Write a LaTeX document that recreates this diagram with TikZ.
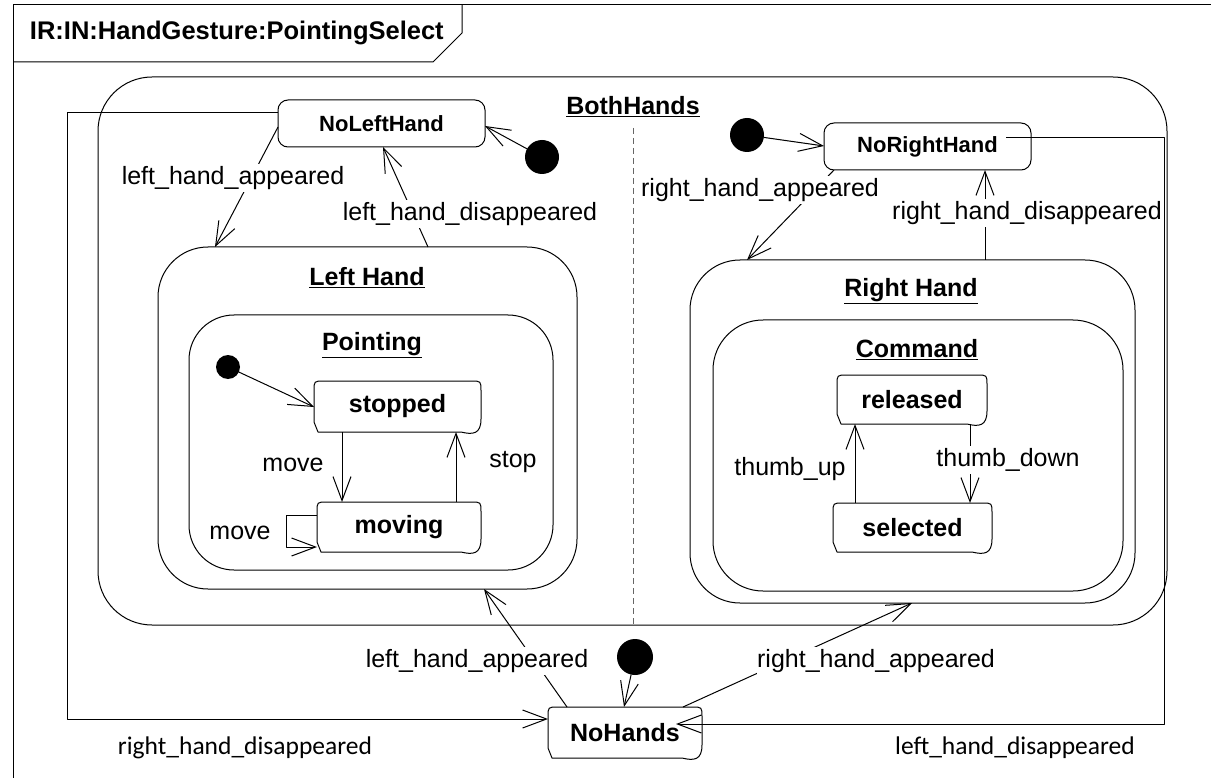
\documentclass[tikz,border=0pt]{standalone}
\usepackage{fontspec}
\setmainfont{Liberation Sans}
\newfontfamily\calfont{Carlito}
\usetikzlibrary{arrows.meta,calc}

% outline of a simple state: rounded top, slanted bottom-left, curled bottom-right
\newcommand\stateoutline[1]{%
  \draw[stateline]
    ($(#1.south west)+(4,0)$) -- ($(#1.south east)+(-20,0)$)
    .. controls ($(#1.south east)+(-8,3)$) and ($(#1.south east)+(0,2)$) .. ($(#1.south east)+(0,-13)$)
    -- ($(#1.north east)+(0,10)$) .. controls (#1.north east) .. ($(#1.north east)+(-10,0)$)
    -- ($(#1.north west)+(10,0)$) .. controls (#1.north west) .. ($(#1.north west)+(0,10)$)
    -- ($(#1.south west)+(0,-10)$) -- cycle;}

\begin{document}
\begin{tikzpicture}[x=1pt,y=-1pt,
  line width=1pt, line join=round,
  every node/.style={inner sep=0pt, outer sep=0pt},
  arr/.style={draw, -{Straight Barb[length=24pt,width=18pt]}},
  stateline/.style={line width=1pt},
  region/.style={draw, rounded corners=#1},
  simplestate/.style={draw, rounded corners=10pt, font=\fontsize{22}{26}\selectfont\bfseries},
  leaf/.style={font=\fontsize{25}{30}\selectfont\bfseries},
  rtitle/.style={font=\fontsize{25}{30}\selectfont\bfseries},
  lbl/.style={font=\fontsize{25}{30}\selectfont, fill=white, inner xsep=0.5pt, inner ysep=2pt},
  clbl/.style={font=\fontsize{25.5}{30}\selectfont\calfont},
  init/.style={circle, fill=black, minimum size=#1},
  sepline/.style={draw=black!60, dash pattern=on 6pt off 4pt},
]
\fill[white] (0,0) rectangle (1211,778);
\useasboundingbox (0,0) rectangle (1211,778);

% frame and name tab
\draw (13,778) -- (13,5) -- (1211,5);
\draw (13,62) -- (433,62) -- (462,33) -- (462,5);
\node[anchor=west, font=\fontsize{25.5}{30}\selectfont\bfseries] (title) at (30,33) {IR:IN:HandGesture:PointingSelect};

% composite states
\node[region=54pt, minimum width=1069pt, minimum height=548pt] (both) at (632.5,351) {};
\node[rtitle] (bothlbl) at (633,107) {\underline{BothHands}};
\draw[sepline] (633,128) -- (633,0 |- both.south);

\node[region=50pt, minimum width=419pt, minimum height=342pt] (lefthand) at (367.5,418) {};
\node[rtitle] (lefthandlbl) at (367,278) {\underline{Left Hand}};
\node[region=45pt, minimum width=364pt, minimum height=255pt] (pointing) at (371,442.5) {};
\node[rtitle] (pointinglbl) at (372,345) {\underline{Pointing}};

\node[region=50pt, minimum width=445pt, minimum height=343pt] (righthand) at (912.5,431.5) {};
\node[rtitle] (righthandlbl) at (911,291) {\underline{Right Hand}};
\node[region=50pt, minimum width=410pt, minimum height=271pt] (command) at (918,455.5) {};
\node[rtitle] (commandlbl) at (917,350) {\underline{Command}};

% states
\node[simplestate, minimum width=207pt, minimum height=47pt] (nolh) at (381.5,123.5) {NoLeftHand};
\node[simplestate, minimum width=207pt, minimum height=47pt] (norh) at (927.5,146.5) {NoRightHand};
\node[leaf, minimum width=154pt, minimum height=51pt] (nohands) at (625,732.5) {NoHands};
\node[leaf, minimum width=167pt, minimum height=51pt] (stopped) at (397.5,406.5) {stopped};
\node[leaf, minimum width=164pt, minimum height=50pt] (moving) at (399,527) {moving};
\node[leaf, minimum width=150pt, minimum height=49pt] (released) at (912,399.5) {released};
\node[leaf, minimum width=159pt, minimum height=49pt] (selected) at (912.5,527.5) {selected};
\stateoutline{nohands}
\stateoutline{stopped}
\stateoutline{moving}
\stateoutline{released}
\stateoutline{selected}

% initial pseudostates
\node[init=34pt] (ini1) at (542,157) {};
\node[init=34pt] (ini2) at (747,135) {};
\node[init=24pt] (ini3) at (228,367) {};
\node[init=36pt] (ini4) at (635,657) {};

% transitions
\draw[arr] (ini1) -- (nolh.east |- 0,126);
\draw[arr] (ini2) -- (norh.west |- 0,146);
\draw[arr] (ini3) -- (stopped.west |- 0,407);
\draw[arr] (ini4) -- (624,0 |- nohands.north);

\draw[arr] (nolh.west |- 0,127) -- (215,0 |- lefthand.north);
\draw[arr] (428,0 |- lefthand.north) -- (383,0 |- nolh.south);
\draw[arr] (834,0 |- norh.south) -- (747,0 |- righthand.north);
\draw[arr] (985,0 |- righthand.north) -- (985,0 |- norh.south);

\draw[arr] (342,0 |- stopped.south) -- (342,0 |- moving.north);
\draw[arr] (456,0 |- moving.north) -- (456,0 |- stopped.south);
\draw[arr] (moving.west |- 0,515) -- ++(-31,0) |- (moving.west |- 0,547);

\draw[arr] (855,0 |- selected.north) -- (855,0 |- released.south);
\draw[arr] (970,0 |- released.south) -- (970,0 |- selected.north);

\draw[arr] (567,0 |- nohands.north) -- (484,0 |- lefthand.south);
\draw[arr] (683,0 |- nohands.north) -- (912,0 |- righthand.south);

% transition labels
\node[lbl] at (233,178) {left\_hand\_appeared};
\node[lbl] at (470,214) {left\_hand\_disappeared};
\node[lbl] at (760,190) {right\_hand\_appeared};
\node[lbl] at (1027,213) {right\_hand\_disappeared};
\node[lbl] at (293,465) {move};
\node[lbl] at (513,462) {stop};
\node[lbl] at (240,533) {move};
\node[lbl] at (790,469) {thumb\_up};
\node[lbl] at (1008,460) {thumb\_down};
\node[lbl] at (477,661) {left\_hand\_appeared};
\node[lbl] at (876,661) {right\_hand\_appeared};
\node[clbl] at (245,748) {right\_hand\_disappeared};
\node[clbl] at (1015,748) {left\_hand\_disappeared};

% transitions leaving BothHands for NoHands
\coordinate (nhwest) at ($(nohands.west)+(0,-13.5)$);
\coordinate (nheast) at ($(nohands.east)+(-26,-8.5)$);
\coordinate (rstart) at ($(norh.east)+(-25,-8.5)$);
\draw[arr] (nolh.west |- 0,113) -| (67,0 |- nhwest) -- (nhwest);
\draw[arr] (rstart) -| (1164,0 |- nheast) -- (nheast);
\end{tikzpicture}
\end{document}
